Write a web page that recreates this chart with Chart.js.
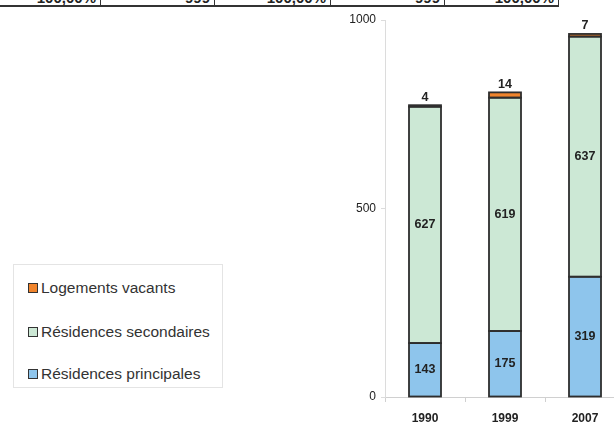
<!DOCTYPE html>
<html lang="fr">
<head>
<meta charset="utf-8">
<script src="https://cdn.jsdelivr.net/npm/chart.js@4.4.1/dist/chart.umd.min.js"></script>
<style>
    html, body { margin: 0; padding: 0; background: #fff; }
    body { width: 614px; height: 424px; position: relative; overflow: hidden; font-family: Arial, "Liberation Sans", sans-serif; }

    /* bas du tableau au-dessus du graphique */
    #tableau { position: absolute; left: -13px; top: -9px; border-collapse: collapse; font-size: 15px; font-weight: bold; color: #222; font-family: Arial, "Liberation Sans", sans-serif; }
    #tableau td { border: 1px solid #333; border-bottom-width: 2px; height: 13px; padding: 0 4px; text-align: right; line-height: 13px; vertical-align: top; }
    #tableau td span { position: relative; top: -1px; }

    #zone-graphique { position: absolute; left: 340px; top: 0; width: 300px; height: 424px; }

    #legende { position: absolute; left: 13px; top: 264px; width: 208px; height: 122px; border: 1px solid #e4e4e4; }
    #legende .item { position: absolute; left: 14px; font-size: 15.5px; color: #333; white-space: nowrap; font-family: Arial, "Liberation Sans", sans-serif; }
    #legende .carre { display: inline-block; width: 8px; height: 8px; border: 1.5px solid #333; margin-right: 3px; vertical-align: 0px; }
</style>
</head>
<body>

<table id="tableau">
    <tr>
        <td style="width: 104px;"><span>100,00%</span></td>
        <td style="width: 105px;"><span>999</span></td>
        <td style="width: 107px;"><span>100,00%</span></td>
        <td style="width: 105px;"><span>999</span></td>
        <td style="width: 105px;"><span>100,00%</span></td>
    </tr>
</table>

<div id="legende"></div>

<div id="zone-graphique">
    <canvas id="graphiqueLogements" width="300" height="424"></canvas>
</div>

<script>
// Données du parc de logements
const annees = ['1990', '1999', '2007'];
const residencesPrincipales = [143, 175, 319];
const residencesSecondaires = [627, 619, 637];
const logementsVacants = [4, 14, 7];
const graduationsY = [0, 500, 1000];

const series = [
    { nom: 'Résidences principales', valeurs: residencesPrincipales, couleur: '#8ec5ec', etiquette: 'centre' },
    { nom: 'Résidences secondaires', valeurs: residencesSecondaires, couleur: '#cce8d5', etiquette: 'centre' },
    { nom: 'Logements vacants', valeurs: logementsVacants, couleur: '#f0842c', etiquette: 'dessus' },
];

const policeTexte = 'Arial, "Liberation Sans", sans-serif';

// Légende (ordre inversé : vacants en haut)
function construireLegende() {
    const legende = document.getElementById('legende');
    const positions = [14, 58, 100];
    series.slice().reverse().forEach((serie, i) => {
        const div = document.createElement('div');
        div.className = 'item';
        div.style.top = positions[i] + 'px';
        div.innerHTML = `<span class="carre" style="background:${serie.couleur}"></span>${serie.nom}`;
        legende.appendChild(div);
    });
}

// Contour centré sur le bord de chaque segment, puis valeurs
const pluginContoursValeurs = {
    id: 'contoursValeurs',
    afterDatasetsDraw(chart) {
        const ctx = chart.ctx;
        ctx.save();
        ctx.strokeStyle = '#2e2e2e';
        ctx.lineWidth = 1.8;
        chart.data.datasets.forEach((ds, i) => {
            chart.getDatasetMeta(i).data.forEach(barre => {
                ctx.strokeRect(barre.x - barre.width / 2, barre.y, barre.width, barre.base - barre.y);
            });
        });

        ctx.font = 'bold 12.5px ' + policeTexte;
        ctx.fillStyle = '#222';
        ctx.textAlign = 'center';
        ctx.textBaseline = 'middle';
        chart.data.datasets.forEach((ds, i) => {
            chart.getDatasetMeta(i).data.forEach((barre, j) => {
                const y = ds.etiquette === 'dessus' ? barre.y - 8 : (barre.y + barre.base) / 2;
                ctx.fillText(ds.data[j], barre.x, y);
            });
        });
        ctx.restore();
    }
};

function dessinerGraphique() {
    const ctx = document.getElementById('graphiqueLogements').getContext('2d');

    new Chart(ctx, {
        type: 'bar',
        data: {
            labels: annees,
            datasets: series.map(s => ({
                label: s.nom,
                data: s.valeurs,
                backgroundColor: s.couleur,
                borderWidth: 0,
                barPercentage: 0.8,
                categoryPercentage: 0.5,
                etiquette: s.etiquette,
            })),
        },
        options: {
            responsive: false,
            animation: false,
            layout: { padding: { top: 20, right: 15, bottom: 0, left: 0 } },
            plugins: {
                legend: { display: false },
                tooltip: { enabled: false },
            },
            scales: {
                x: {
                    stacked: true,
                    border: { color: '#d0d0d0', width: 1 },
                    grid: { drawOnChartArea: false, drawTicks: true, tickLength: 5, color: '#d0d0d0', offset: true },
                    ticks: { color: '#222', padding: 9, font: { family: policeTexte, size: 12, weight: 'bold' } },
                    afterFit: scale => { scale.height = 27; },
                },
                y: {
                    stacked: true,
                    min: 0,
                    max: 1000,
                    border: { color: '#dcdcdc', width: 1 },
                    grid: { drawOnChartArea: false, drawTicks: true, tickLength: 4, color: '#dcdcdc' },
                    afterBuildTicks: scale => { scale.ticks = graduationsY.map(v => ({ value: v })); },
                    ticks: {
                        color: '#222', padding: 5, font: { family: policeTexte, size: 12 },
                        callback: value => String(value),
                    },
                    afterFit: scale => { scale.width = 45; },
                },
            },
        },
        plugins: [pluginContoursValeurs],
    });
}

construireLegende();
dessinerGraphique();
</script>
</body>
</html>
